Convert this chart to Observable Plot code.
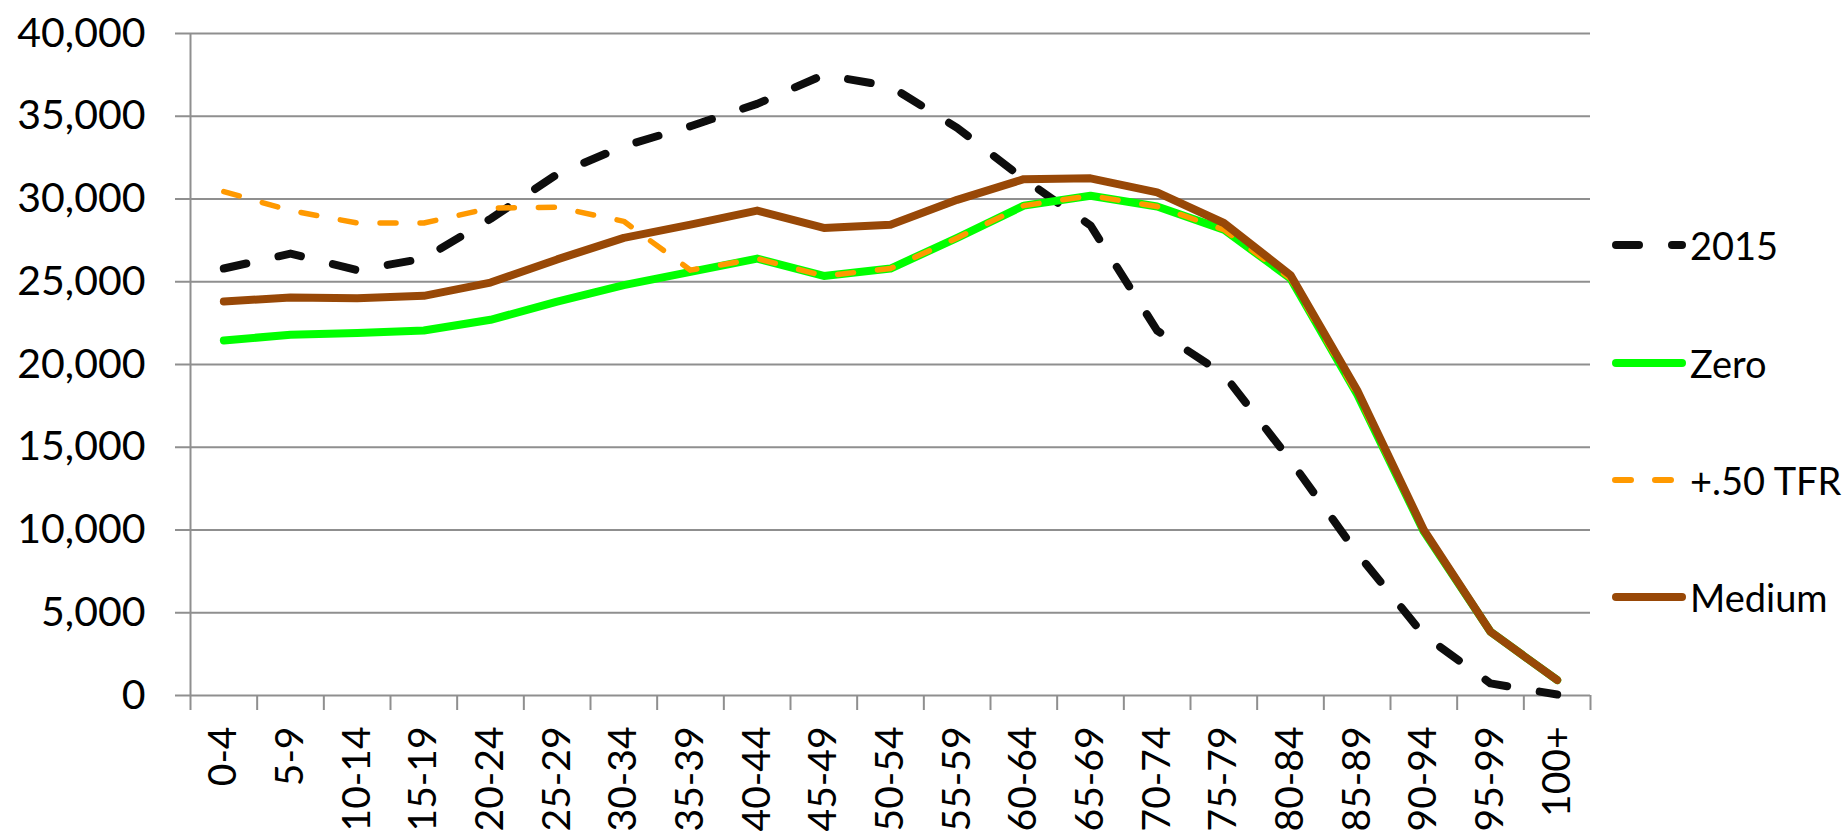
<!DOCTYPE html>
<html>
<head>
<meta charset="utf-8">
<script src="https://cdn.jsdelivr.net/npm/d3@7"></script>
<script src="https://cdn.jsdelivr.net/npm/@observablehq/plot@0.6"></script>
<style>
html, body { margin: 0; padding: 0; background: #fff; }
#wrap { position: relative; width: 1843px; height: 838px; overflow: hidden; }
.legend { position: absolute; left: 1612px; top: 0; font-family: Lato, sans-serif; font-size: 38px; color: #000; }
.item { position: absolute; left: 0; display: flex; align-items: center; white-space: nowrap; transform: translateY(-50%); }
.item svg { margin-right: 4px; }
</style>
</head>
<body>
<div id="wrap"></div>
<script>
const ages = ["0-4","5-9","10-14","15-19","20-24","25-29","30-34","35-39","40-44","45-49","50-54","55-59","60-64","65-69","70-74","75-79","80-84","85-89","90-94","95-99","100+"];
const s2015  = [25800, 26700, 25700, 26400, 28800, 31500, 33200, 34400, 35750, 37500, 36800, 34300, 31200, 28400, 22050, 19400, 14200, 8600, 3650, 730, 60];
const zero   = [21450, 21800, 21900, 22050, 22700, 23800, 24800, 25600, 26400, 25350, 25800, 27650, 29600, 30200, 29550, 28150, 25200, 18200, 9900, 3850, 930];
const tfr    = [30450, 29300, 28550, 28550, 29450, 29500, 28650, 25700, 26400, 25350, 25800, 27650, 29600, 30200, 29550, 28150, 25200, 18200, 9900, 3850, 930];
const medium = [23800, 24050, 24000, 24150, 24950, 26350, 27650, 28450, 29300, 28250, 28450, 29950, 31200, 31250, 30400, 28550, 25400, 18450, 10000, 3850, 930];
const yTicks = [0, 5000, 10000, 15000, 20000, 25000, 30000, 35000, 40000];
const seriesNames = ["2015", "Zero", "+.50 TFR", "Medium"];

const idx = ages.map((_, i) => i);
const bounds = idx.concat([ages.length]).map(i => i - 0.5);
const grid = "#8f8f8f";

const svg = Plot.plot({
  width: 1843,
  height: 838,
  marginLeft: 190,
  marginRight: 253,
  marginTop: 33,
  marginBottom: 143,
  style: { background: "#fff", overflow: "visible" },
  x: { type: "linear", domain: [-0.5, ages.length - 0.5], axis: null },
  y: { domain: [0, 40000], axis: null },
  marks: [
    Plot.gridY(yTicks, { stroke: grid, strokeOpacity: 1, strokeWidth: 2 }),
    Plot.ruleX([-0.5], { stroke: grid, strokeWidth: 2 }),
    Plot.axisY(yTicks, {
      tickFormat: d3.format(","), tickSize: 15, tickPadding: 30,
      stroke: grid, strokeWidth: 2, fontSize: 41, fontFamily: "Lato", fill: "#000", label: null
    }),
    Plot.axisX(bounds, {
      tickFormat: () => "", tickSize: 15, stroke: grid, strokeWidth: 2, label: null
    }),
    Plot.text(idx, {
      x: i => i, y: () => 0, text: i => ages[i], rotate: -90, textAnchor: "end",
      lineAnchor: "middle", dy: 31, fontSize: 39, fontFamily: "Lato", fill: "#000"
    }),
    Plot.line(idx, { x: i => i, y: i => s2015[i], stroke: "#0d0d0d", strokeWidth: 8, strokeDasharray: "23,33", strokeLinecap: "round", strokeLinejoin: "round" }),
    Plot.line(idx, { x: i => i, y: i => zero[i], stroke: "#00ff00", strokeWidth: 8, strokeLinecap: "round", strokeLinejoin: "round" }),
    Plot.line(idx, { x: i => i, y: i => tfr[i], stroke: "#ff9900", strokeWidth: 5.5, strokeDasharray: "16,24", strokeLinecap: "round", strokeLinejoin: "round" }),
    Plot.line(idx, { x: i => i, y: i => medium[i], stroke: "#984807", strokeWidth: 8, strokeLinecap: "round", strokeLinejoin: "round" })
  ]
});

const wrap = document.getElementById("wrap");
wrap.appendChild(svg);

const legendDefs = [
  { name: seriesNames[0], color: "#0d0d0d", width: 8, dash: "23,33", x1: 4, x2: 70, cap: "round", y: 245 },
  { name: seriesNames[1], color: "#00ff00", width: 8, dash: null, x1: 4, x2: 70, cap: "round", y: 363 },
  { name: seriesNames[2], color: "#ff9900", width: 6, dash: "16,24", x1: 3, x2: 62, cap: "round", y: 480 },
  { name: seriesNames[3], color: "#984807", width: 8, dash: null, x1: 4, x2: 70, cap: "round", y: 597 }
];
const legend = document.createElement("div");
legend.className = "legend";
for (const d of legendDefs) {
  const item = document.createElement("div");
  item.className = "item";
  item.style.top = d.y + "px";
  item.innerHTML = `<svg width="74" height="14"><line x1="${d.x1}" x2="${d.x2}" y1="7" y2="7" stroke="${d.color}" stroke-width="${d.width}" stroke-linecap="${d.cap}" ${d.dash ? `stroke-dasharray="${d.dash}"` : ""}/></svg><span>${d.name}</span>`;
  legend.appendChild(item);
}
wrap.appendChild(legend);
</script>
</body>
</html>
